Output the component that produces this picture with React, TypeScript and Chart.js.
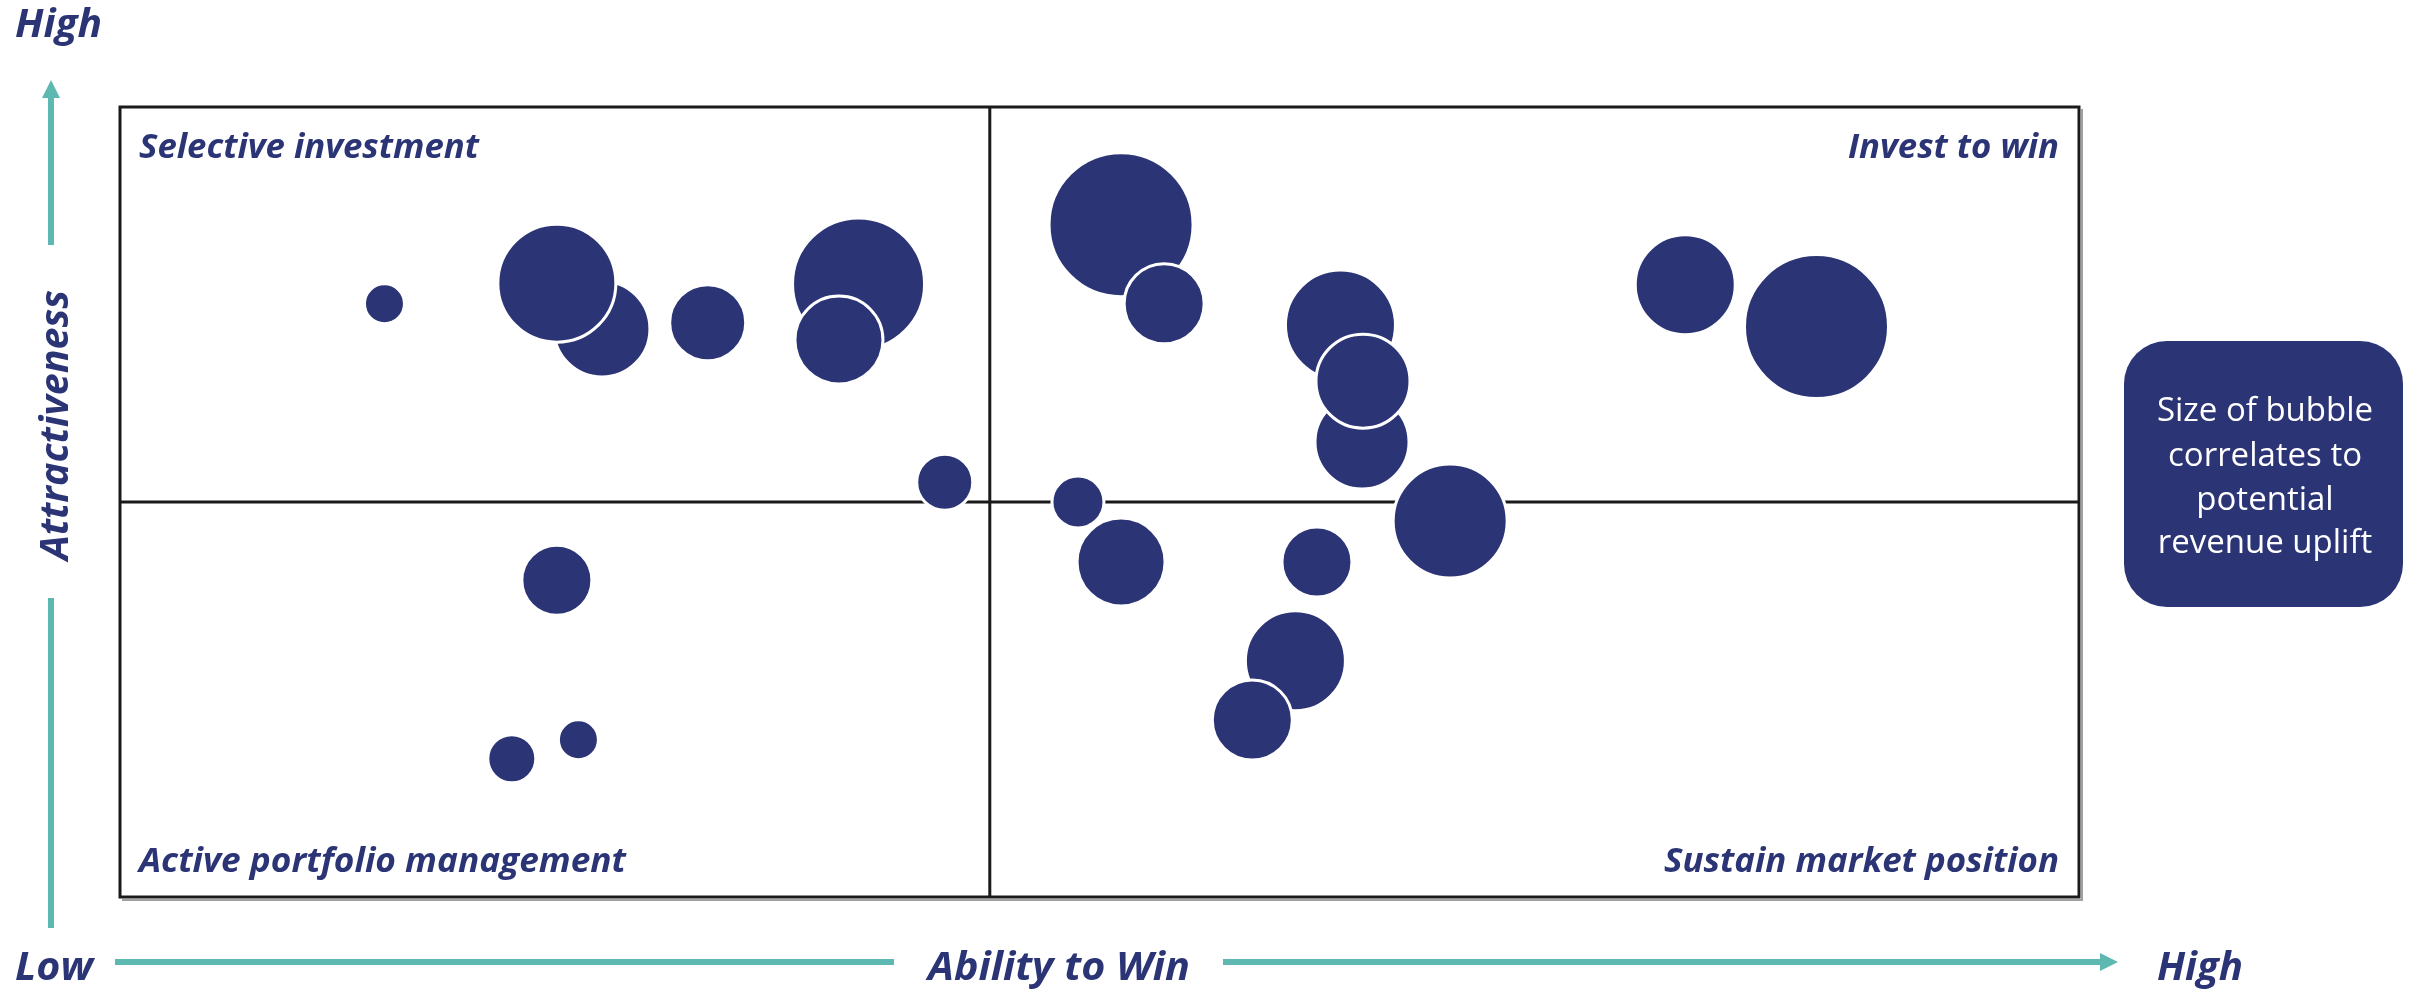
import React, { useEffect, useRef } from "react";
import { Chart, registerables } from "chart.js";
Chart.register(...registerables);

// Bubble data (ability to win 0-100, attractiveness 0-100, bubble radius px)
const ABILITY = [13.5, 24.6, 22.3, 30.0, 37.7, 36.7, 42.1, 51.1, 53.3, 62.3, 63.4, 63.45, 67.9, 51.1, 48.9, 61.1, 60.0, 57.8, 22.3, 20.0, 23.4, 79.9, 86.6];
const ATTRACT = [75.1, 71.9, 77.7, 72.7, 77.6, 70.5, 52.5, 85.1, 75.1, 72.4, 57.6, 65.3, 47.6, 42.4, 50.0, 42.4, 29.9, 22.4, 40.1, 17.5, 19.9, 77.5, 72.2];
const UPLIFT = [20, 48, 59, 38, 66, 44, 28, 72, 40, 55, 47, 47, 57, 44, 26, 35, 50, 40, 35, 24, 20, 50, 72];

const X_DIVIDER = 44.4;
const Y_DIVIDER = 50;

const QUADRANT_LABELS = ["Selective investment", "Invest to win", "Active portfolio management", "Sustain market position"];
const AXIS_Y_TITLE = "Attractiveness";
const AXIS_X_TITLE = "Ability to Win";
const LOW_LABEL = "Low";
const HIGH_LABEL = "High";
const NOTE_LINES = ["Size of bubble", "correlates to", "potential", "revenue uplift"];

const NAVY = "#2B3475";
const TEAL = "#5EB8B2";

function fitText(ctx: CanvasRenderingContext2D, text: string, x: number, y: number, font: string, width: number, align: CanvasTextAlign) {
  ctx.save();
  ctx.font = font;
  const w = ctx.measureText(text).width;
  const sx = width / w;
  ctx.translate(x, y);
  ctx.scale(sx, 1);
  ctx.textAlign = align;
  ctx.textBaseline = "alphabetic";
  ctx.fillText(text, 0, 0);
  ctx.restore();
}

const decorPlugin = {
  id: "decor",
  beforeDatasetsDraw(chart: any) {
    const ctx: CanvasRenderingContext2D = chart.ctx;
    const { left, right, top, bottom } = chart.chartArea;
    const xs = chart.scales.x;
    const ys = chart.scales.y;
    ctx.save();
    // shadow
    ctx.strokeStyle = "#a0a0a0";
    ctx.lineWidth = 2;
    ctx.beginPath();
    ctx.moveTo(left + 2, bottom + 3);
    ctx.lineTo(right + 3, bottom + 3);
    ctx.lineTo(right + 3, top + 2);
    ctx.stroke();
    // frame
    ctx.strokeStyle = "#1a1a1a";
    ctx.lineWidth = 3;
    ctx.strokeRect(left, top, right - left, bottom - top);
    // dividers
    const xd = xs.getPixelForValue(X_DIVIDER);
    const yd = ys.getPixelForValue(Y_DIVIDER);
    ctx.lineWidth = 3;
    ctx.beginPath();
    ctx.moveTo(xd, top);
    ctx.lineTo(xd, bottom);
    ctx.moveTo(left, yd);
    ctx.lineTo(right, yd);
    ctx.stroke();
    // quadrant labels
    ctx.fillStyle = NAVY;
    const qf = "italic bold 34px 'Open Sans'";
    fitText(ctx, QUADRANT_LABELS[0], left + 19, top + 51, qf, 340, "left");
    fitText(ctx, QUADRANT_LABELS[1], right - 20, top + 51, qf, 211, "right");
    fitText(ctx, QUADRANT_LABELS[2], left + 19, bottom - 25, qf, 487, "left");
    fitText(ctx, QUADRANT_LABELS[3], right - 20, bottom - 25, qf, 395, "right");
    ctx.restore();
  },
  afterDraw(chart: any) {
    const ctx: CanvasRenderingContext2D = chart.ctx;
    ctx.save();
    // vertical arrow
    ctx.strokeStyle = TEAL;
    ctx.fillStyle = TEAL;
    ctx.lineWidth = 6;
    ctx.beginPath();
    ctx.moveTo(51, 97);
    ctx.lineTo(51, 245);
    ctx.moveTo(51, 598);
    ctx.lineTo(51, 928);
    ctx.stroke();
    ctx.beginPath();
    ctx.moveTo(51, 80);
    ctx.lineTo(60, 98);
    ctx.lineTo(42, 98);
    ctx.closePath();
    ctx.fill();
    // horizontal arrow
    ctx.beginPath();
    ctx.moveTo(115, 962);
    ctx.lineTo(894, 962);
    ctx.moveTo(1223, 962);
    ctx.lineTo(2101, 962);
    ctx.stroke();
    ctx.beginPath();
    ctx.moveTo(2118, 962);
    ctx.lineTo(2100, 953);
    ctx.lineTo(2100, 971);
    ctx.closePath();
    ctx.fill();

    // axis texts
    ctx.fillStyle = NAVY;
    const af = "italic bold 40px 'Open Sans'";
    fitText(ctx, HIGH_LABEL, 15, 37, af, 87, "left");
    fitText(ctx, LOW_LABEL, 15, 980, af, 78, "left");
    fitText(ctx, AXIS_X_TITLE, 1059, 980, af, 262, "center");
    fitText(ctx, HIGH_LABEL, 2157, 980, af, 86, "left");
    ctx.save();
    ctx.translate(68, 425);
    ctx.rotate(-Math.PI / 2);
    fitText(ctx, AXIS_Y_TITLE, 0, 0, af, 270, "center");
    ctx.restore();

    // note box
    const bx = 2124, by = 341, bw = 279, bh = 266, r = 43;
    ctx.fillStyle = NAVY;
    ctx.beginPath();
    ctx.moveTo(bx + r, by);
    ctx.lineTo(bx + bw - r, by);
    ctx.arcTo(bx + bw, by, bx + bw, by + r, r);
    ctx.lineTo(bx + bw, by + bh - r);
    ctx.arcTo(bx + bw, by + bh, bx + bw - r, by + bh, r);
    ctx.lineTo(bx + r, by + bh);
    ctx.arcTo(bx, by + bh, bx, by + bh - r, r);
    ctx.lineTo(bx, by + r);
    ctx.arcTo(bx, by, bx + r, by, r);
    ctx.closePath();
    ctx.fill();
    ctx.fillStyle = "#ffffff";
    ctx.font = "33px 'Open Sans'";
    ctx.textAlign = "center";
    ctx.textBaseline = "alphabetic";
    const baselines = [421, 466, 510, 553];
    NOTE_LINES.forEach((t, i) => ctx.fillText(t, 2265, baselines[i]));
    ctx.restore();
  },
};

export default function App() {
  const ref = useRef<HTMLCanvasElement | null>(null);
  useEffect(() => {
    document.body.style.margin = "0";
    const canvas = ref.current!;
    const data = ABILITY.map((x, i) => ({ x, y: ATTRACT[i], r: UPLIFT[i] }));
    const chart = new Chart(canvas, {
      type: "bubble",
      data: {
        datasets: [
          {
            label: "Portfolio",
            data,
            backgroundColor: NAVY,
            borderColor: "#ffffff",
            borderWidth: 3,
          },
        ],
      },
      options: {
        responsive: false,
        maintainAspectRatio: false,
        animation: false,
        devicePixelRatio: 1,
        layout: { autoPadding: false, padding: { left: 120, right: 346, top: 107, bottom: 94 } },
        scales: {
          x: { type: "linear", min: 0, max: 100, display: false },
          y: { type: "linear", min: 0, max: 100, display: false },
        },
        plugins: { legend: { display: false }, tooltip: { enabled: false } },
        events: [],
      },
      plugins: [decorPlugin],
    } as any);
    return () => chart.destroy();
  }, []);
  return (
    <div style={{ position: "absolute", left: 0, top: 0, width: 2425, height: 991, background: "#ffffff" }}>
      <canvas ref={ref} width={2425} height={991} style={{ display: "block" }} />
    </div>
  );
}
